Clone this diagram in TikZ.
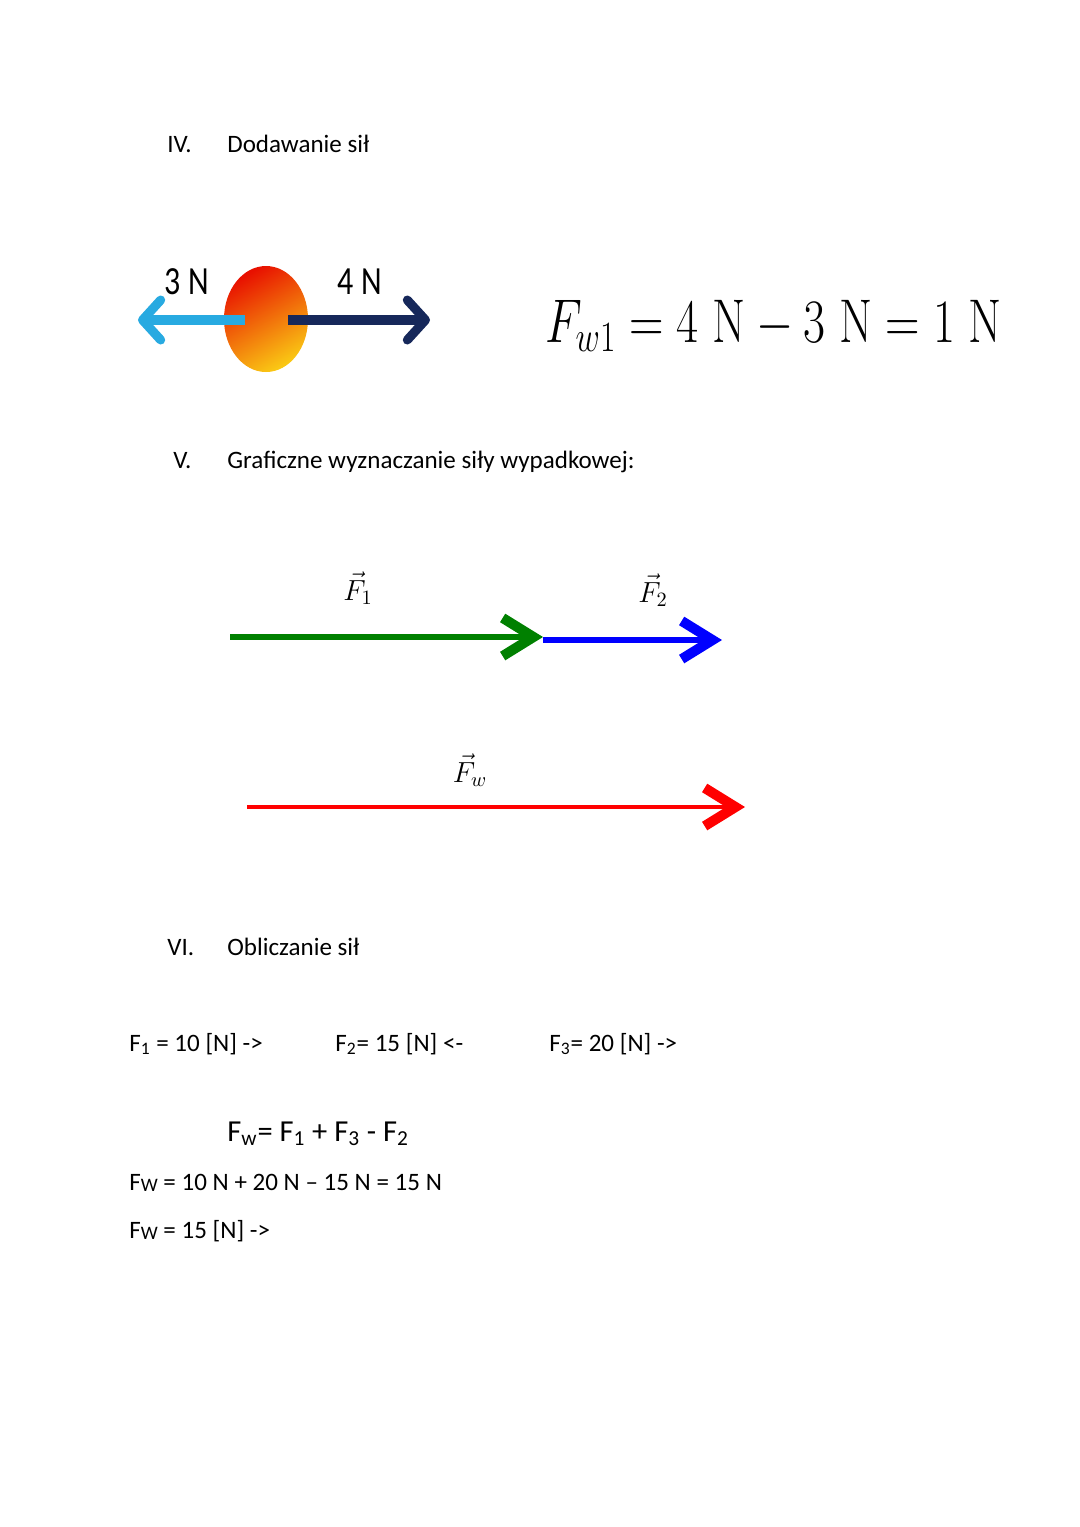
\RequirePackage{fix-cm}
\documentclass[tikz,border=0pt]{standalone}
\usepackage[no-math]{fontspec}
\usepackage{graphicx}
\setmainfont{Carlito}
\usetikzlibrary{arrows.meta,shapes.geometric}
\begin{document}
\begin{tikzpicture}[x=0.551pt,y=-0.551pt,
  txt/.style={anchor=base west,inner sep=0pt,font=\fontsize{13.8}{16}\selectfont},
  lbl/.style={anchor=base,inner sep=0pt,font=\fontsize{22}{26}\selectfont},
  vlab/.style={anchor=base,inner sep=0pt,font=\fontsize{16}{19}\selectfont},
  force/.style={line width=5pt,-{Straight Barb[length=10pt,width=22pt,round]}},
  vec/.style={-{Straight Barb[length=17pt,width=21pt,line width=5.5pt]}}]
\useasboundingbox (0,0) rectangle (1080,1527);
\definecolor{lblue}{RGB}{40,170,225}
\definecolor{navy}{RGB}{22,40,90}
\definecolor{vgreen}{RGB}{0,128,0}
% headings
\node[txt] (h4n) at (167,152) {IV.};
\node[txt] (h4) at (227,152) {Dodawanie sił};
\node[txt] (h5n) at (173,468) {V.};
\node[txt] (h5) at (227,468) {Graficzne wyznaczanie siły wypadkowej:};
\node[txt] (h6n) at (167,955) {VI.};
\node[txt] (h6) at (227,955) {Obliczanie sił};
% ball
\node[ellipse,minimum width=84*0.551pt,minimum height=106*0.551pt,inner sep=0pt,
  top color={rgb,255:red,232;green,16;blue,0},bottom color={rgb,255:red,250;green,200;blue,20},
  shading angle=30] (ball) at (266,319) {};
\coordinate (lstart) at (245,320);
\coordinate (ltip) at (138,320);
\coordinate (rstart) at (288,320);
\coordinate (rtip) at (430,320);
\draw[force,lblue] (lstart) -- (ltip);
\draw[force,navy] (rstart) -- (rtip);
\node[lbl] (l3) at (187,294) {\scalebox{0.8}[1]{3 N}};
\node[lbl] (l4) at (360,294) {\scalebox{0.8}[1]{4 N}};
\node[anchor=base west,inner sep=0pt] (fw1) at (545,342)
  {\fontsize{34}{40}\selectfont\scalebox{0.775}[1]{$F_{w1} = 4\;\mathrm{N} - 3\;\mathrm{N} = 1\;\mathrm{N}$}};
% vectors
\coordinate (g0) at (230,637);
\coordinate (g1) at (543,637);
\coordinate (b1) at (722,640);
\coordinate (r0) at (247,807);
\coordinate (r1) at (745,807);
\draw[vec,vgreen,line width=3.3pt] (g0) -- (g1);
\draw[vec,blue,line width=3.3pt] (g1 |- b1) -- (b1);
\draw[vec,red,line width=1.7pt] (r0) -- (r1);
\node[vlab] (f1) at (358,600) {$\vec{F}_1$};
\node[vlab] (f2) at (653,602) {$\vec{F}_2$};
\node[vlab] (fw) at (470,782) {$\vec{F}_w$};
% calculations
\node[txt] (c1) at (129,1051) {F\textsubscript{1} = 10 [N] ->};
\node[txt] (c2) at (335,1051) {F\textsubscript{2}= 15 [N] <-};
\node[txt] (c3) at (549,1051) {F\textsubscript{3}= 20 [N] ->};
\node[anchor=base west,inner sep=0pt,font=\fontsize{16.8}{20}\selectfont] (eq) at (227,1141)
  {F\textsubscript{w}= F\textsubscript{1} + F\textsubscript{3} - F\textsubscript{2}};
\node[txt] (e1) at (129,1190) {F\raisebox{-0.15ex}{\fontsize{10.5}{12}\selectfont W} = 10 N + 20 N – 15 N = 15 N};
\node[txt] (e2) at (129,1238) {F\raisebox{-0.15ex}{\fontsize{10.5}{12}\selectfont W} = 15 [N] ->};
\end{tikzpicture}
\end{document}
